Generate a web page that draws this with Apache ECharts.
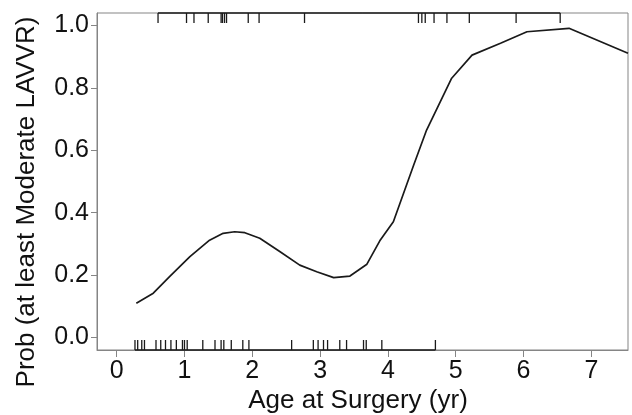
<!DOCTYPE html>
<html><head><meta charset="utf-8">
<script src="https://cdn.jsdelivr.net/npm/echarts@6/dist/echarts.min.js"></script>
<style>html,body{margin:0;padding:0;background:#fff}#c{width:632px;height:415px}</style>
</head><body><div id="c"></div>
<script>
// Fitted curve (age in years, probability)
const curveAge  = [0.29, 0.54, 0.78, 1.08, 1.37, 1.57, 1.74, 1.89, 2.11, 2.41, 2.70, 2.95, 3.20, 3.44, 3.69, 3.88, 4.08, 4.38, 4.57, 4.94, 5.24, 5.66, 6.05, 6.67, 7.54];
const curveProb = [0.110, 0.142, 0.195, 0.259, 0.312, 0.334, 0.339, 0.336, 0.318, 0.275, 0.232, 0.211, 0.192, 0.197, 0.235, 0.310, 0.371, 0.553, 0.665, 0.831, 0.905, 0.943, 0.980, 0.991, 0.911];
// Rug: patients with at least moderate LAVVR (top) and without (bottom)
const rugTop    = [0.61, 1.03, 1.14, 1.35, 1.54, 1.56, 1.59, 1.62, 1.94, 2.10, 2.77, 4.45, 4.50, 4.55, 4.68, 4.87, 5.20, 5.89, 6.54];
const rugBottom = [0.27, 0.31, 0.37, 0.41, 0.58, 0.65, 0.72, 0.80, 0.88, 0.97, 1.00, 1.04, 1.27, 1.45, 1.54, 1.58, 1.69, 1.86, 1.95, 2.58, 2.90, 2.97, 3.05, 3.11, 3.29, 3.39, 3.64, 3.68, 3.91, 4.70];
const xTicks = [0, 1, 2, 3, 4, 5, 6, 7];
const yTicks = [0, 0.2, 0.4, 0.6, 0.8, 1.0];
const xRange = [-0.29, 7.54];
const yRange = [-0.04, 1.04];
const xTitle = 'Age at Surgery (yr)';
const yTitle = 'Prob (at least Moderate LAVVR)';

const FONT = '"Liberation Sans", Arial, sans-serif';
const AXIS = '#858585';
const INK = '#1a1a1a';

function rugTicks(vals, yv, dir) {
  return {
    type: 'custom', silent: true, clip: false, z: 5,
    data: vals.map(v => [v, yv]),
    encode: {x: 0, y: 1},
    renderItem(params, api) {
      const p = api.coord([api.value(0), api.value(1)]);
      return {type: 'line', shape: {x1: p[0], y1: p[1], x2: p[0], y2: p[1] + dir * 10},
              style: {stroke: INK, lineWidth: 1.3}};
    }
  };
}
function rugLine(vals, yv) {
  return {
    type: 'custom', silent: true, clip: false, z: 5,
    data: [[Math.min(...vals), Math.max(...vals), yv]],
    encode: {x: [0, 1], y: 2},
    renderItem(params, api) {
      const a = api.coord([api.value(0), api.value(2)]);
      const b = api.coord([api.value(1), api.value(2)]);
      return {type: 'line', shape: {x1: a[0], y1: a[1], x2: b[0], y2: b[1]},
              style: {stroke: INK, lineWidth: 1.4}};
    }
  };
}

const chart = echarts.init(document.getElementById('c'), null, {renderer: 'canvas'});
chart.setOption({
  animation: false,
  backgroundColor: '#fff',
  grid: {left: 97, top: 13, width: 531, height: 337, show: true, borderColor: AXIS, borderWidth: 1, backgroundColor: 'transparent'},
  xAxis: {
    type: 'value', min: xRange[0], max: xRange[1],
    splitLine: {show: false},
    axisLine: {show: true, onZero: false, lineStyle: {color: AXIS, width: 1}},
    axisTick: {show: true, length: 7, lineStyle: {color: AXIS}, customValues: xTicks},
    axisLabel: {customValues: xTicks, color: '#111', fontSize: 25, fontFamily: FONT, margin: 9, formatter: v => String(v)}
  },
  yAxis: {
    type: 'value', min: yRange[0], max: yRange[1],
    splitLine: {show: false},
    axisLine: {show: true, onZero: false, lineStyle: {color: AXIS, width: 1}},
    axisTick: {show: true, length: 6, lineStyle: {color: AXIS}, customValues: yTicks},
    axisLabel: {customValues: yTicks, color: '#111', fontSize: 25, fontFamily: FONT, margin: 8, formatter: v => v.toFixed(1)}
  },
  graphic: [
    {type: 'text', x: 358, y: 401,
     style: {text: xTitle, fontSize: 26, fontFamily: FONT, fill: '#111', align: 'center', verticalAlign: 'middle'}},
    {type: 'text', x: 27, y: 202, rotation: Math.PI / 2,
     style: {text: yTitle, fontSize: 26, fontFamily: FONT, fill: '#111', align: 'center', verticalAlign: 'middle'}}
  ],
  series: [
    {type: 'line', data: curveAge.map((a, i) => [a, curveProb[i]]), showSymbol: false, smooth: false,
     lineStyle: {color: INK, width: 1.7}, clip: true, z: 4},
    rugLine(rugTop, yRange[1]),
    rugTicks(rugTop, yRange[1], 1),
    rugLine(rugBottom, yRange[0]),
    rugTicks(rugBottom, yRange[0], -1)
  ]
});
</script></body></html>
